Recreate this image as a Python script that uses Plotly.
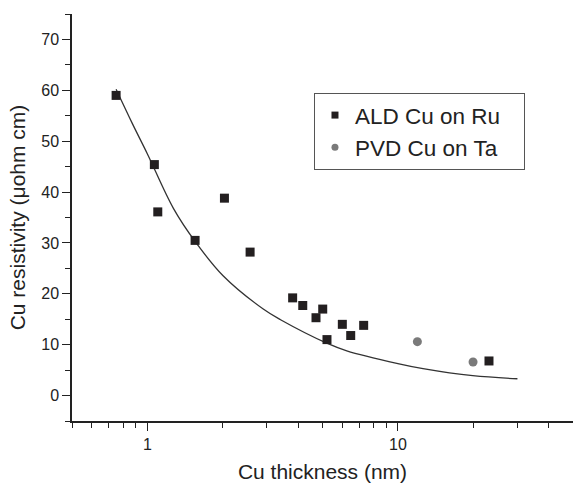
import plotly.graph_objects as go

# ALD Cu on Ru (squares)
ald_x = [0.75, 1.066, 1.10, 1.55, 2.03, 2.57, 3.80, 4.17, 4.71, 5.01, 5.21, 6.00, 6.48, 7.30, 23.1]
ald_y = [59.0, 45.4, 36.1, 30.5, 38.8, 28.2, 19.2, 17.7, 15.3, 17.0, 11.0, 14.0, 11.8, 13.8, 6.8]

# PVD Cu on Ta (circles)
pvd_x = [11.96, 19.95]
pvd_y = [10.6, 6.6]

# fitted curve
fit_x = [0.75, 0.87, 1.0, 1.27, 1.55, 2.0, 2.9, 3.4, 5.2, 6.25, 10.0, 12.6, 19.9, 30.0]
fit_y = [60.2, 53.5, 47.5, 36.8, 30.3, 23.6, 17.0, 14.9, 10.3, 8.8, 6.3, 5.3, 3.9, 3.3]

x_major = [1, 10]
x_minor = [0.5, 0.6, 0.7, 0.8, 0.9, 2, 3, 4, 5, 6, 7, 8, 9, 20, 30, 40]
y_major = [0, 10, 20, 30, 40, 50, 60, 70]

PAD = "\u00a0\u00a0\u00a0"

fig = go.Figure()
fig.add_trace(go.Scatter(x=fit_x, y=fit_y, mode="lines", line=dict(color="#333333", width=1.3, shape="spline"),
                         showlegend=False, hoverinfo="skip"))
fig.add_trace(go.Scatter(x=ald_x, y=ald_y, mode="markers",
                         marker=dict(symbol="square", size=9, color="#231f20"), showlegend=False))
fig.add_trace(go.Scatter(x=pvd_x, y=pvd_y, mode="markers",
                         marker=dict(symbol="circle", size=9, color="#7a7a7a"), showlegend=False))
# legend entries
fig.add_trace(go.Scatter(x=[None], y=[None], mode="markers", name="ALD Cu on Ru" + PAD,
                         marker=dict(symbol="square", size=7, color="#231f20")))
fig.add_trace(go.Scatter(x=[None], y=[None], mode="markers", name="PVD Cu on Ta" + PAD,
                         marker=dict(symbol="circle", size=7, color="#7a7a7a")))

FAM = "Liberation Sans, Arial, sans-serif"
axis_font = dict(family=FAM, size=16, color="#222222")
title_font = dict(family=FAM, size=21, color="#222222")

fig.update_layout(
    width=573, height=484,
    margin=dict(l=72, r=0, t=14, b=62.5),
    paper_bgcolor="white", plot_bgcolor="white",
    font=axis_font,
    legend=dict(x=0.483, y=0.806, xanchor="left", yanchor="top",
                bordercolor="#555555", borderwidth=1, bgcolor="white",
                font=dict(family=FAM, size=22.5, color="#222222"),
                tracegroupgap=0),
    xaxis=dict(type="log", range=[-0.30103, 1.69897],
               tickmode="array", tickvals=x_major, ticktext=[str(v) for v in x_major],
               ticks="outside", ticklen=8, tickwidth=1.3, tickcolor="#222222",
               showline=True, linecolor="#222222", linewidth=1.5,
               showgrid=False, zeroline=False,
               minor=dict(tickmode="array", tickvals=x_minor, ticks="outside", ticklen=5,
                          tickwidth=1.3, tickcolor="#222222", showgrid=False),
               title=dict(text="Cu thickness (nm)", font=title_font, standoff=12),
               tickfont=axis_font),
    yaxis=dict(range=[-5, 75],
               tickmode="array", tickvals=y_major, ticktext=[str(v) for v in y_major],
               ticks="outside", ticklen=8, tickwidth=1.3, tickcolor="#222222",
               showline=True, linecolor="#222222", linewidth=1.5,
               showgrid=False, zeroline=False,
               minor=dict(dtick=5, ticks="outside", ticklen=5, tickwidth=1.3,
                          tickcolor="#222222", showgrid=False),
               title=dict(text="Cu resistivity (\u03bcohm cm)", font=title_font, standoff=10),
               tickfont=axis_font),
)

fig.write_html("out.html", config={"displayModeBar": False},
               post_script="document.body.style.margin='0';")
